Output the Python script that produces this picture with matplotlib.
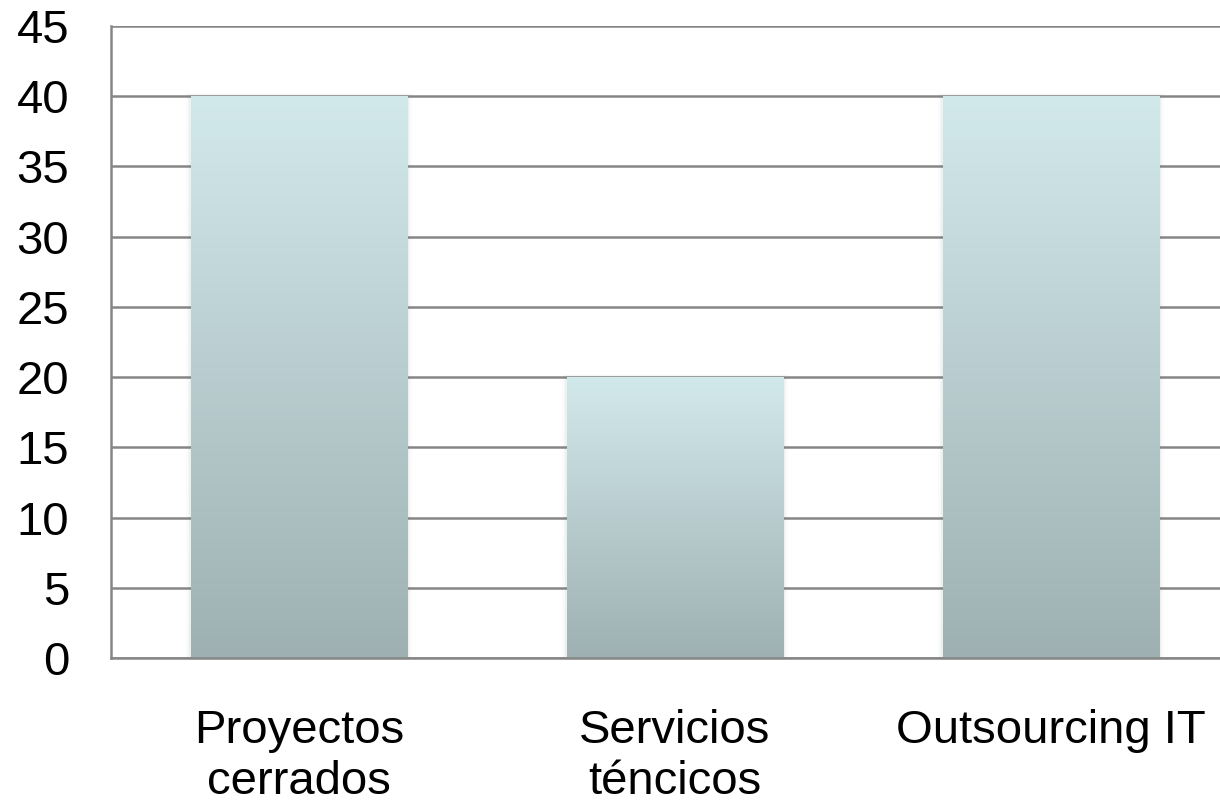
import matplotlib
matplotlib.use("Agg")
import matplotlib.pyplot as plt
import numpy as np
from matplotlib.colors import LinearSegmentedColormap
from matplotlib.patches import Rectangle

categories = ["Proyectos\ncerrados", "Servicios\nténcicos", "Outsourcing IT"]
values = [40, 20, 40]
yticks = [0, 5, 10, 15, 20, 25, 30, 35, 40, 45]

plt.rcParams['font.family'] = ['Liberation Sans', 'DejaVu Sans']

W, H = 1220, 807
fig = plt.figure(figsize=(W / 100, H / 100), dpi=100)
left, right, top, bottom = 111, 1239, 26, 658
ax = fig.add_axes([left / W, 1 - bottom / H, (right - left) / W, (bottom - top) / H])

x = np.arange(len(categories))
width = 0.575
ax.set_xlim(-0.5, len(categories) - 0.5)
ax.set_ylim(0, 45)

cmap = LinearSegmentedColormap.from_list("g", ["#9eb0b2", "#d2e9ec"])
grad = np.linspace(0, 1, 256).reshape(-1, 1)

bars = ax.bar(x, values, width=width, color="none", zorder=3)
for b in bars:
    x0, y0 = b.get_x(), b.get_y()
    w, h = b.get_width(), b.get_height()
    # soft shadow
    for i, a in enumerate([0.05, 0.04, 0.03]):
        d = 0.004 * (i + 1)
        sh = Rectangle((x0 - d, y0), w + 2 * d, h + d * 20, facecolor="#808080",
                       alpha=a, edgecolor="none", zorder=2.5)
        ax.add_patch(sh)
    ax.imshow(grad, cmap=cmap, origin="lower", aspect="auto",
              extent=[x0, x0 + w, y0, y0 + h], zorder=3, interpolation="bilinear")

ax.set_xlim(-0.5, len(categories) - 0.5)
ax.set_ylim(0, 45)

ax.set_yticks(yticks)
ax.set_yticklabels([str(t) for t in yticks], fontsize=34)
ax.set_xticks(x)
ax.set_xticklabels(categories, fontsize=34, linespacing=1.2)
ax.tick_params(axis="y", length=0, pad=30)
ax.tick_params(axis="x", length=0, pad=37)

ax.grid(axis="y", color="#868686", linewidth=1.8, zorder=1)
ax.set_axisbelow(True)
for s in ["top", "right"]:
    ax.spines[s].set_visible(False)
ax.spines["left"].set_color("#868686")
ax.spines["left"].set_linewidth(1.8)
ax.spines["bottom"].set_color("#868686")
ax.spines["bottom"].set_linewidth(1.8)
ax.spines["bottom"].set_zorder(4)

fig.savefig("out.png", dpi=100)
